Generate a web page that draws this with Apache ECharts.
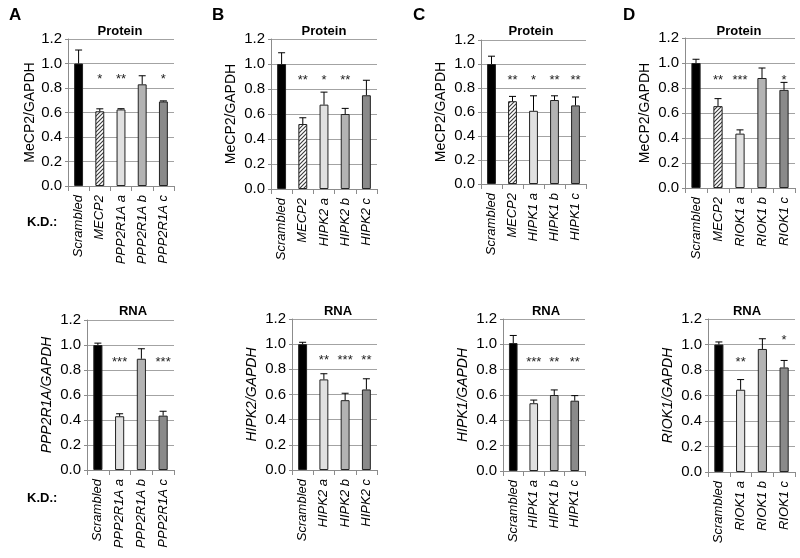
<!DOCTYPE html>
<html>
<head>
<meta charset="utf-8">
<script src="https://cdn.jsdelivr.net/npm/echarts@6/dist/echarts.min.js"></script>
<style>
    html, body { margin: 0; padding: 0; background: #fff; }
    #chart { width: 800px; height: 558px; }
</style>
</head>
<body>
<div id="chart"></div>
<script>
// panel letters and row titles
const panelLetters = ['A', 'B', 'C', 'D'];
const rowTitles = ['Protein', 'RNA'];

// protein knock-down (MeCP2 / GAPDH)
const proteinLabels = [
    ['Scrambled', 'MECP2', 'PPP2R1A a', 'PPP2R1A b', 'PPP2R1A c'],
    ['Scrambled', 'MECP2', 'HIPK2 a', 'HIPK2 b', 'HIPK2 c'],
    ['Scrambled', 'MECP2', 'HIPK1 a', 'HIPK1 b', 'HIPK1 c'],
    ['Scrambled', 'MECP2', 'RIOK1 a', 'RIOK1 b', 'RIOK1 c']
];
const proteinMeans = [
    [1.00, 0.61, 0.625, 0.83, 0.69],
    [1.00, 0.52, 0.675, 0.60, 0.75],
    [1.00, 0.69, 0.61, 0.70, 0.655],
    [1.00, 0.655, 0.435, 0.88, 0.785]
];
const proteinErrors = [
    [0.11, 0.02, 0.006, 0.07, 0.005],
    [0.09, 0.05, 0.10, 0.045, 0.12],
    [0.065, 0.04, 0.125, 0.035, 0.07],
    [0.03, 0.06, 0.03, 0.08, 0.06]
];
const proteinStars = [
    ['', '*', '**', '', '*'],
    ['', '**', '*', '**', ''],
    ['', '**', '*', '**', '**'],
    ['', '**', '***', '', '*']
];
const proteinStarY = [
    [0, 0.87, 0.87, 0, 0.87],
    [0, 0.87, 0.87, 0.87, 0],
    [0, 0.86, 0.86, 0.86, 0.86],
    [0, 0.86, 0.86, 0, 0.86]
];

// RNA knock-down (target / GAPDH)
const rnaNames = ['PPP2R1A/GAPDH', 'HIPK2/GAPDH', 'HIPK1/GAPDH', 'RIOK1/GAPDH'];
const rnaLabels = [
    ['Scrambled', 'PPP2R1A a', 'PPP2R1A b', 'PPP2R1A c'],
    ['Scrambled', 'HIPK2 a', 'HIPK2 b', 'HIPK2 c'],
    ['Scrambled', 'HIPK1 a', 'HIPK1 b', 'HIPK1 c'],
    ['Scrambled', 'RIOK1 a', 'RIOK1 b', 'RIOK1 c']
];
const rnaMeans = [
    [1.00, 0.43, 0.89, 0.435],
    [1.00, 0.72, 0.555, 0.64],
    [1.01, 0.535, 0.60, 0.555],
    [1.00, 0.645, 0.965, 0.82]
];
const rnaErrors = [
    [0.015, 0.02, 0.08, 0.035],
    [0.015, 0.045, 0.055, 0.085],
    [0.06, 0.025, 0.04, 0.04],
    [0.02, 0.08, 0.08, 0.055]
];
const rnaStars = [
    ['', '***', '', '***'],
    ['', '**', '***', '**'],
    ['', '***', '**', '**'],
    ['', '**', '', '*']
];
const rnaStarY = [
    [0, 0.86, 0, 0.86],
    [0, 0.87, 0.87, 0.87],
    [0, 0.86, 0.86, 0.86],
    [0, 0.86, 0, 1.03]
];

const FONT = 'Liberation Sans, Arial, sans-serif';
const GRID_LINE = '#a3a3a3';

// plot areas, protein row then RNA row
const grids = [
    { left: 68, top: 39, width: 106, height: 147 },
    { left: 271, top: 39, width: 106, height: 150 },
    { left: 481, top: 40, width: 105, height: 144 },
    { left: 685, top: 38, width: 110, height: 150 },
    { left: 87, top: 320, width: 87, height: 150 },
    { left: 292, top: 319, width: 85, height: 151 },
    { left: 503, top: 319, width: 82, height: 152 },
    { left: 708, top: 319, width: 87, height: 153 }
];
const nameGaps = [31, 33, 33, 33, 33, 33, 33, 33];
const letterX = [9, 212, 413, 623];
const titleX = [[120, 324, 531, 739], [133, 338, 546, 747]];

// hatched fill for the MECP2 bars
const hatchCanvas = document.createElement('canvas');
hatchCanvas.width = 4;
hatchCanvas.height = 4;
const hctx = hatchCanvas.getContext('2d');
hctx.fillStyle = '#fff';
hctx.fillRect(0, 0, 4, 4);
hctx.strokeStyle = '#3a3a3a';
hctx.lineWidth = 1.1;
hctx.beginPath();
hctx.moveTo(-1, 5); hctx.lineTo(5, -1);
hctx.moveTo(-1, 1); hctx.lineTo(1, -1);
hctx.moveTo(3, 5); hctx.lineTo(5, 3);
hctx.stroke();
const hatchFill = { image: hatchCanvas, repeat: 'repeat' };

const proteinColors = ['#000000', hatchFill, '#e0e0e0', '#b3b3b3', '#8a8a8a'];
const rnaColors = ['#000000', '#e0e0e0', '#b3b3b3', '#8a8a8a'];

const xAxes = [];
const yAxes = [];
const series = [];

const addPanel = (gi, labels, means, errors, stars, starY, colors, yName, italicName) => {
    xAxes.push({
        type: 'category',
        gridIndex: gi,
        data: labels,
        axisLine: { lineStyle: { color: '#8c8c8c' } },
        axisTick: { show: true, length: 5, lineStyle: { color: '#8c8c8c' } },
        axisLabel: {
            rotate: 90, interval: 0, margin: 9,
            fontStyle: 'italic', fontSize: 13, color: '#000', fontFamily: FONT
        }
    });
    yAxes.push({
        type: 'value',
        gridIndex: gi,
        min: 0,
        max: 1.2,
        interval: 0.2,
        name: yName,
        nameLocation: 'middle',
        nameGap: nameGaps[gi],
        nameTextStyle: {
            fontSize: 14, color: '#000', fontFamily: FONT,
            fontStyle: italicName ? 'italic' : 'normal'
        },
        axisLine: { show: true, lineStyle: { color: '#8c8c8c' } },
        axisTick: { show: true, length: 3, lineStyle: { color: '#8c8c8c' } },
        splitLine: { lineStyle: { color: GRID_LINE, width: 1 } },
        axisLabel: {
            fontSize: 15, color: '#000', fontFamily: FONT, margin: 6,
            formatter: v => v.toFixed(1)
        }
    });
    series.push({
        type: 'bar',
        xAxisIndex: gi,
        yAxisIndex: gi,
        barWidth: '42%',
        itemStyle: { borderColor: '#222', borderWidth: 1 },
        data: means.map((v, j) => ({ value: v, itemStyle: { color: colors[j] } })),
        silent: true
    });
    series.push({
        type: 'custom',
        xAxisIndex: gi,
        yAxisIndex: gi,
        silent: true,
        z: 5,
        data: means.map((v, j) => [j, v, errors[j]]),
        renderItem: (params, api) => {
            const base = api.coord([api.value(0), api.value(1)]);
            const top = api.coord([api.value(0), api.value(1) + api.value(2)]);
            return {
                type: 'group',
                children: [
                    { type: 'line', shape: { x1: base[0], y1: base[1], x2: top[0], y2: top[1] }, style: { stroke: '#000', lineWidth: 1 } },
                    { type: 'line', shape: { x1: top[0] - 3.5, y1: top[1], x2: top[0] + 3.5, y2: top[1] }, style: { stroke: '#000', lineWidth: 1 } }
                ]
            };
        }
    });
    series.push({
        type: 'custom',
        xAxisIndex: gi,
        yAxisIndex: gi,
        silent: true,
        z: 6,
        data: starY.map((v, j) => [j, v]),
        renderItem: (params, api) => {
            const txt = stars[params.dataIndex];
            if (!txt) return null;
            const p = api.coord([api.value(0), api.value(1)]);
            return {
                type: 'text',
                x: p[0],
                y: p[1],
                style: {
                    text: txt, fill: '#222',
                    font: '13px ' + FONT,
                    textAlign: 'center', textVerticalAlign: 'middle'
                }
            };
        }
    });
};

for (let i = 0; i < 4; i++) {
    addPanel(i, proteinLabels[i], proteinMeans[i], proteinErrors[i], proteinStars[i], proteinStarY[i], proteinColors, 'MeCP2/GAPDH', false);
}
for (let i = 0; i < 4; i++) {
    addPanel(4 + i, rnaLabels[i], rnaMeans[i], rnaErrors[i], rnaStars[i], rnaStarY[i], rnaColors, rnaNames[i], true);
}

const graphics = [];
panelLetters.forEach((l, i) => {
    graphics.push({
        type: 'text', x: letterX[i], y: 15,
        style: { text: l, font: 'bold 17px ' + FONT, fill: '#000', textVerticalAlign: 'middle' }
    });
});
rowTitles.forEach((t, r) => {
    titleX[r].forEach(x => {
        graphics.push({
            type: 'text', x: x, y: r === 0 ? 31 : 311,
            style: { text: t, font: 'bold 13px ' + FONT, fill: '#000', textAlign: 'center', textVerticalAlign: 'middle' }
        });
    });
});
[222, 498].forEach(y => {
    graphics.push({
        type: 'text', x: 27, y: y,
        style: { text: 'K.D.:', font: 'bold 13px ' + FONT, fill: '#000', textVerticalAlign: 'middle' }
    });
});

const chart = echarts.init(document.getElementById('chart'), null, { renderer: 'canvas' });
chart.setOption({
    animation: false,
    backgroundColor: '#fff',
    grid: grids,
    xAxis: xAxes,
    yAxis: yAxes,
    series: series,
    graphic: graphics
});
</script>
</body>
</html>
